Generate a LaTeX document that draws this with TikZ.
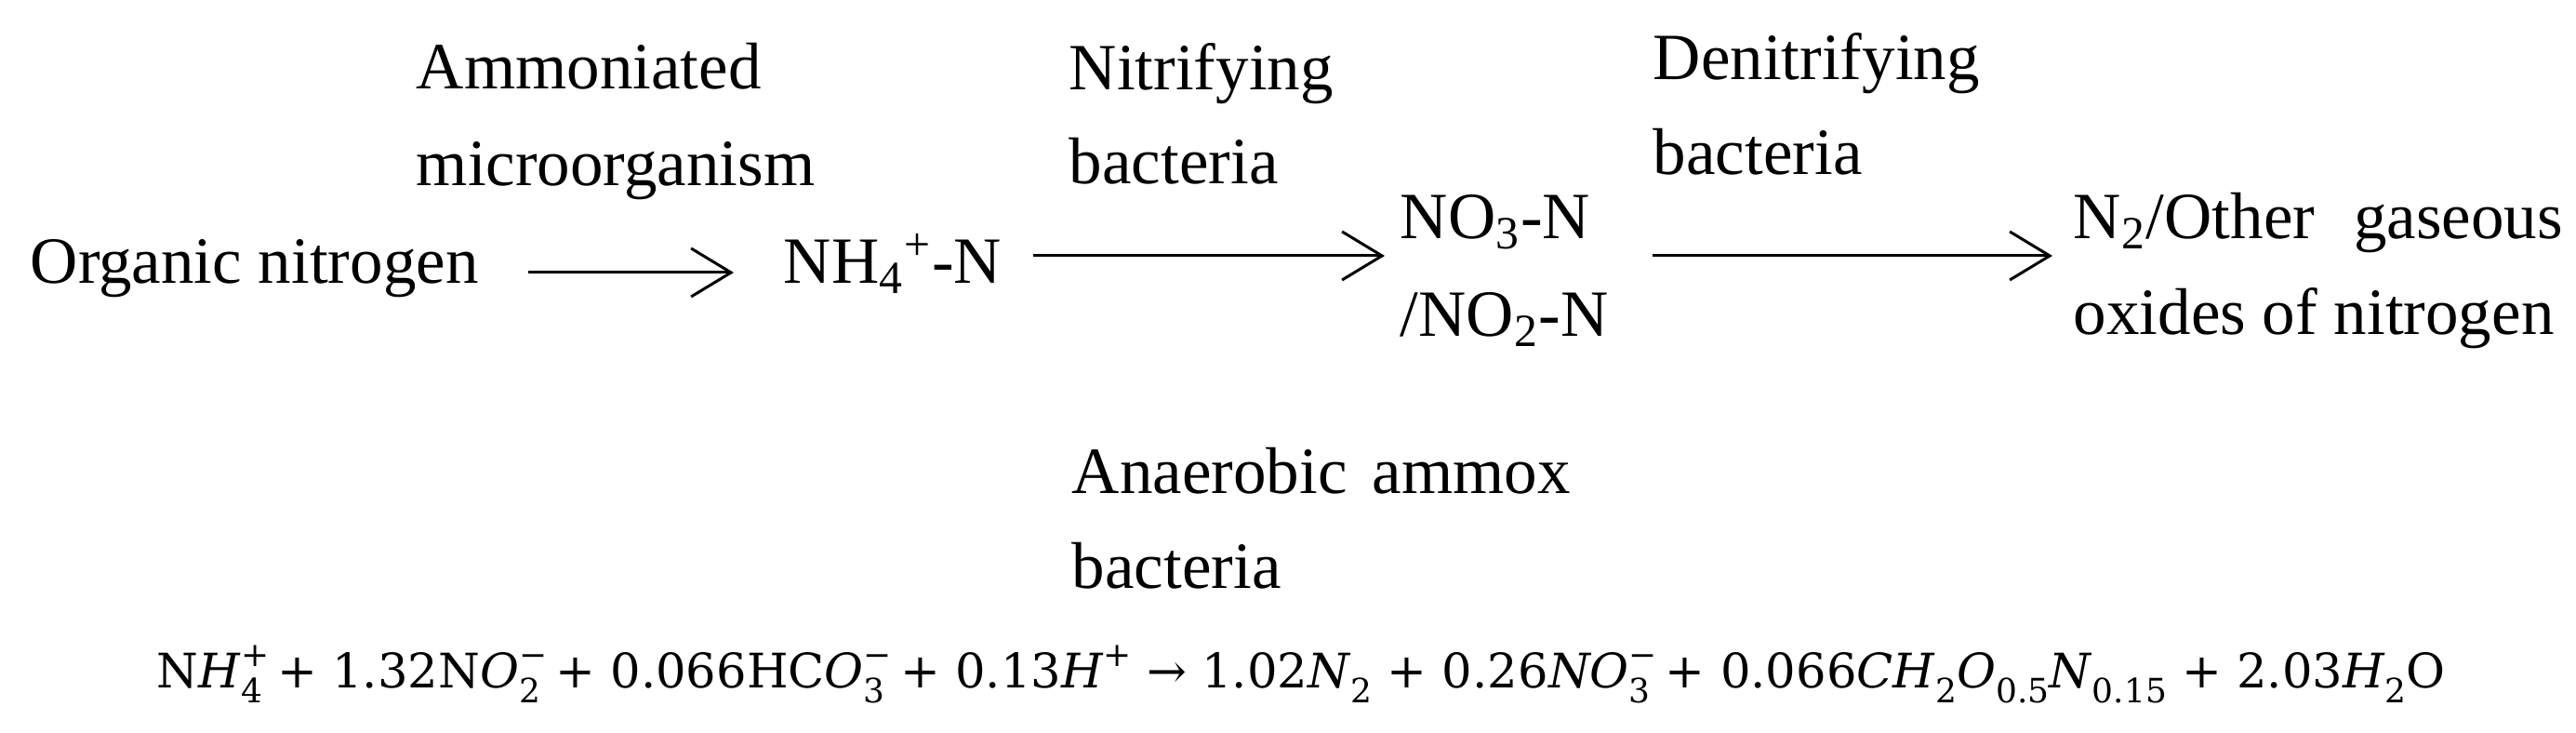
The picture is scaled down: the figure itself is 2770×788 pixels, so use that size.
\documentclass[tikz,border=0pt]{standalone}
\usepackage{fontspec}
\setmainfont{Liberation Serif}
\newfontfamily\eqf{DejaVu Serif}
\usetikzlibrary{arrows.meta}
\newcommand\eqsz{\fontsize{12.8}{15}\selectfont}
\newcommand\scsz{\fontsize{9}{10}\selectfont}
\newcommand\Sup[1]{\raisebox{0.45em}{\scsz #1}}
\newcommand\Sub[1]{\raisebox{-0.3em}{\scsz #1}}
\newcommand\SupSub[2]{\rlap{\Sup{#1}}\Sub{#2}}
\tikzset{
  lbl/.style={anchor=base west, inner sep=0pt, font=\fontsize{17.75}{20}\selectfont},
  eqn/.style={anchor=base west, inner sep=0pt, font=\eqf\eqsz},
  arr/.style={line width=0.75pt, -{Straight Barb[length=10.75pt, width=13pt]}}
}
\begin{document}
\begin{tikzpicture}[x=0.25pt, y=-0.25pt]
\useasboundingbox (0,0) rectangle (2770,788);
% row of substances
\node[lbl] (org) at (32,305) {Organic nitrogen};
\node[lbl] (nh4) at (842,305) {NH\textsubscript{4}\textsuperscript{+}-N};
\node[lbl] (no3) at (1505,257) {NO\textsubscript{3}-N};
\node[lbl] (no2) at (1505,362) {/NO\textsubscript{2}-N};
\node[lbl] (n2) at (2229,257) {\hbox to 131.5pt{N\textsubscript{2}/Other\hfill gaseous}};
\node[lbl] (oxi) at (2229,360) {oxides of nitrogen};
% labels above arrows
\node[lbl] (amm1) at (447,96) {Ammoniated};
\node[lbl] (amm2) at (447,200) {microorganism};
\node[lbl] (nit1) at (1149,97) {Nitrifying};
\node[lbl] (nit2) at (1149,198) {bacteria};
\node[lbl] (den1) at (1777,86) {Denitrifying};
\node[lbl] (den2) at (1777,188) {bacteria};
% anammox
\node[lbl] (ana1) at (1152,531) {\hbox to 134pt{Anaerobic\hfill ammox}};
\node[lbl] (ana2) at (1152,633) {bacteria};
% equation
\node[eqn] (eq) at (168,740) {N\textit{H}\SupSub{+}{4} + 1.32N\textit{O}\SupSub{−}{2} + 0.066HC\textit{O}\SupSub{−}{3} + 0.13\textit{H}\Sup{+} → 1.02\textit{N}\Sub{2} + 0.26\textit{NO}\SupSub{−}{3} + 0.066\textit{CH}\Sub{2}\textit{O}\Sub{0.5}\textit{N}\Sub{0.15} + 2.03\textit{H}\Sub{2}O};
% arrows
\draw[arr] ([shift={(53,-12)}]org.base east) -- ([shift={(-53,-12)}]nh4.base west);
\draw[arr] ([shift={(33,-30)}]nh4.base east) -- ([shift={(-16,18)}]no3.base west);
\draw[arr] ([shift={(66,18)}]no3.base east) -- ([shift={(-22,18)}]n2.base west);
\end{tikzpicture}
\end{document}
